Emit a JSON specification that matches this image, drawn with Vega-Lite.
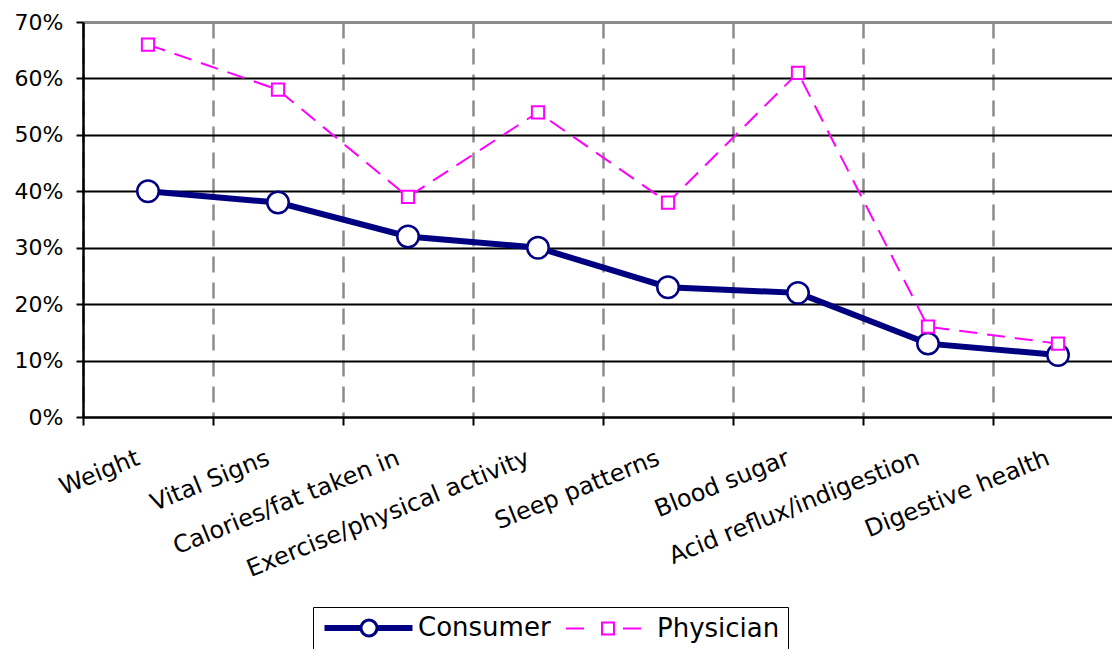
{
  "$schema": "https://vega.github.io/schema/vega-lite/v6.json",
  "autosize": {"type": "none"},
  "width": 1029,
  "height": 395,
  "padding": {"left": 83, "top": 22, "right": 0, "bottom": 232},
  "background": "white",
  "config": {
    "font": "DejaVu Sans",
    "view": {"stroke": null},
    "axis": {"labelFont": "DejaVu Sans", "labelColor": "black"}
  },
  "data": {
    "values": [
      {"item": "Weight", "series": "Consumer", "share": 0.40},
      {"item": "Vital Signs", "series": "Consumer", "share": 0.38},
      {"item": "Calories/fat taken in", "series": "Consumer", "share": 0.32},
      {"item": "Exercise/physical activity", "series": "Consumer", "share": 0.30},
      {"item": "Sleep patterns", "series": "Consumer", "share": 0.23},
      {"item": "Blood sugar", "series": "Consumer", "share": 0.22},
      {"item": "Acid reflux/indigestion", "series": "Consumer", "share": 0.13},
      {"item": "Digestive health", "series": "Consumer", "share": 0.11},
      {"item": "Weight", "series": "Physician", "share": 0.66},
      {"item": "Vital Signs", "series": "Physician", "share": 0.58},
      {"item": "Calories/fat taken in", "series": "Physician", "share": 0.39},
      {"item": "Exercise/physical activity", "series": "Physician", "share": 0.54},
      {"item": "Sleep patterns", "series": "Physician", "share": 0.38},
      {"item": "Blood sugar", "series": "Physician", "share": 0.61},
      {"item": "Acid reflux/indigestion", "series": "Physician", "share": 0.16},
      {"item": "Digestive health", "series": "Physician", "share": 0.13}
    ]
  },
  "encoding": {
    "x": {
      "field": "item",
      "type": "nominal",
      "sort": null,
      "title": null,
      "scale": {"type": "band", "range": [0, 1040], "paddingInner": 0, "paddingOuter": 0},
      "axis": {
        "tickBand": "extent",
        "grid": true,
        "gridColor": "#8c8c8c",
        "gridWidth": 2.5,
        "gridDash": [16, 10],
        "domainColor": "black",
        "domainWidth": 2,
        "tickColor": "black",
        "tickWidth": 2,
        "tickSize": 8,
        "labelAngle": -22,
        "labelAlign": "right",
        "labelBaseline": "middle",
        "labelFontSize": 24,
        "labelPadding": 32,
        "labelOffset": -10,
        "labelLimit": 0
      }
    },
    "y": {
      "field": "share",
      "type": "quantitative",
      "title": null,
      "scale": {"domain": [0, 0.7], "nice": false, "zero": true},
      "axis": {
        "values": [0, 0.1, 0.2, 0.3, 0.4, 0.5, 0.6, 0.7],
        "format": ".0%",
        "grid": true,
        "gridColor": {"condition": {"test": "datum.value >= 0.7", "value": "#8c8c8c"}, "value": "black"},
        "gridWidth": {"condition": {"test": "datum.value >= 0.7", "value": 3}, "value": 2},
        "domainColor": "black",
        "domainWidth": 2.5,
        "tickColor": "black",
        "tickWidth": 2,
        "tickSize": 7,
        "labelFontSize": 22,
        "labelPadding": 13
      }
    }
  },
  "layer": [
    {
      "transform": [{"filter": "datum.series === 'Consumer'"}],
      "mark": {"type": "line", "color": "#000080", "strokeWidth": 6}
    },
    {
      "transform": [{"filter": "datum.series === 'Consumer'"}],
      "mark": {"type": "point", "shape": "circle", "size": 460, "filled": false, "fill": "white", "stroke": "#000080", "strokeWidth": 2.5, "opacity": 1}
    },
    {
      "transform": [{"filter": "datum.series === 'Physician'"}],
      "mark": {"type": "line", "color": "#ff00ff", "strokeWidth": 2, "strokeDash": [18, 10]}
    },
    {
      "transform": [{"filter": "datum.series === 'Physician'"}],
      "mark": {"type": "point", "shape": "square", "size": 150, "filled": false, "fill": "white", "stroke": "#ff00ff", "strokeWidth": 2, "opacity": 1}
    },
    {
      "transform": [{"filter": "false"}],
      "mark": {"type": "point", "size": 400, "filled": false, "fill": "white", "opacity": 1},
      "encoding": {
        "color": {
          "field": "series",
          "type": "nominal",
          "scale": {"domain": ["Consumer", "Physician"], "range": ["#000080", "#ff00ff"]},
          "legend": {
            "title": null,
            "orient": "none",
            "legendX": 230,
            "legendY": 585,
            "direction": "horizontal",
            "columns": 2,
            "strokeColor": "black",
            "fillColor": "white",
            "padding": 8,
            "symbolSize": 400,
            "symbolOffset": 35,
            "labelOffset": 36,
            "columnPadding": 9,
            "labelFontSize": 26,
            "labelFont": "DejaVu Sans",
            "labelColor": "black",
            "labelLimit": 0
          }
        },
        "shape": {
          "field": "series",
          "type": "nominal",
          "scale": {
            "domain": ["Consumer", "Physician"],
            "range": [
              "M-4.3,-0.15H-0.8V0.15H-4.3Z M0.8,-0.15H4.2V0.15H0.8Z M0.8,0A0.8,0.8,0,1,1,-0.8,0A0.8,0.8,0,1,1,0.8,0Z",
              "M-4.2,0H-2.4 M1.5,0H3.3 M-0.6,-0.6H0.6V0.6H-0.6Z"
            ]
          },
          "legend": {"title": null}
        },
        "strokeWidth": {
          "field": "series",
          "type": "nominal",
          "scale": {"domain": ["Consumer", "Physician"], "range": [3, 2]},
          "legend": {"title": null}
        }
      }
    }
  ]
}
